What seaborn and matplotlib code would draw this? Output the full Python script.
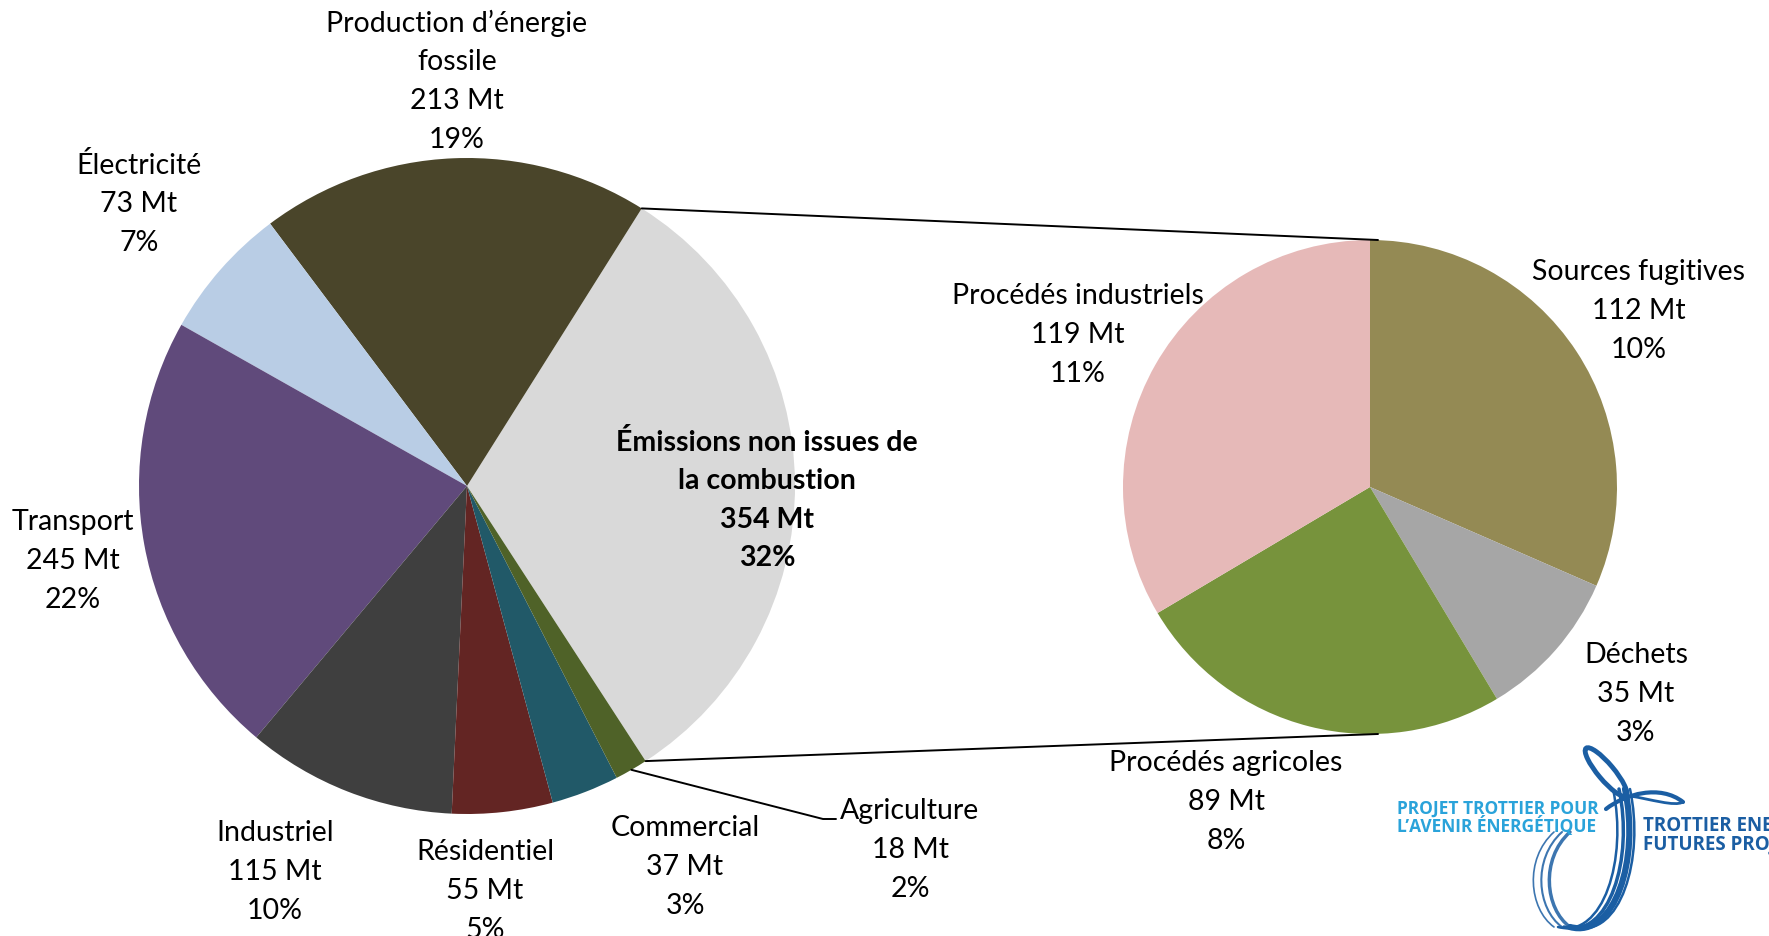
import numpy as np
import matplotlib
matplotlib.use("Agg")
import matplotlib.pyplot as plt
from matplotlib.patches import Ellipse, PathPatch
from matplotlib.path import Path
import seaborn as sns

# ---- data -------------------------------------------------------------
main_names = ["Émissions non issues de\nla combustion", "Production d’énergie\nfossile",
              "Électricité", "Transport", "Industriel", "Résidentiel",
              "Commercial", "Agriculture"]
main_values = [354, 213, 73, 245, 115, 55, 37, 18]
main_colors = ["#D9D9D9", "#4A452A", "#B9CDE5", "#604A7B", "#3F3F3F",
               "#632523", "#215968", "#4F6228"]

sub_names = ["Sources fugitives", "Déchets", "Procédés agricoles", "Procédés industriels"]
sub_values = [112, 35, 89, 119]
sub_colors = ["#948A54", "#A6A6A6", "#77933C", "#E6B9B8"]

total = sum(main_values)

# ---- style ------------------------------------------------------------
sns.set_theme(style="white")
plt.rcParams["font.family"] = ["Lato", "DejaVu Sans"]

W, H = 1769, 937
fig = plt.figure(figsize=(W / 100, H / 100), dpi=100)
ax = fig.add_axes([0, 0, 1, 1])

# pie geometry (pixel space, y up)
c1, r1 = (467, 450), 328
c2, r2 = (1370, 449), 247
start1 = -57.0

ax.pie(main_values, colors=main_colors, startangle=start1, counterclock=True,
       center=c1, radius=r1, frame=True, wedgeprops=dict(linewidth=0))
ax.pie(sub_values, colors=sub_colors, startangle=90, counterclock=False,
       center=c2, radius=r2, frame=True, wedgeprops=dict(linewidth=0))

ax.set_xlim(0, W)
ax.set_ylim(0, H)
ax.set_aspect("equal")
ax.axis("off")

# connector lines between the two pies
a_top = np.deg2rad(start1 + main_values[0] / total * 360)
a_bot = np.deg2rad(start1)
p_top = (c1[0] + r1 * np.cos(a_top), c1[1] + r1 * np.sin(a_top))
p_bot = (c1[0] + r1 * np.cos(a_bot), c1[1] + r1 * np.sin(a_bot))
ax.plot([p_top[0], c2[0] + 8], [p_top[1], c2[1] + r2], color="black", lw=1.4)
ax.plot([p_bot[0], c2[0] + 8], [p_bot[1], c2[1] - r2], color="black", lw=1.4)

# leader for the small Agriculture slice
ang_ag = np.deg2rad(start1 - main_values[-1] / total * 360 / 2)
p_ag = (c1[0] + r1 * np.cos(ang_ag), c1[1] + r1 * np.sin(ang_ag))
ax.plot([p_ag[0], 823, 836], [p_ag[1], 117, 117], color="black", lw=1.4)

# ---- labels -----------------------------------------------------------
fs = 20.5
ls = 1.6

def label(name, value, pos, bold=False):
    pct = round(value / total * 100)
    ax.text(pos[0], pos[1], f"{name}\n{value} Mt\n{pct}%", ha="center", va="center",
            fontsize=fs, linespacing=ls, color="black",
            fontweight="bold" if bold else "normal")

main_pos = [(767, 937 - 500), (457, 937 - 81), (139, 937 - 204), (73, 937 - 561),
            (275, 937 - 872), (485, 937 - 891), (685, 937 - 867), (910, 937 - 850)]
for i, (n, v, p) in enumerate(zip(main_names, main_values, main_pos)):
    label(n, v, p, bold=(i == 0))

sub_pos = [(1639, 937 - 311), (1636, 937 - 694), (1226, 937 - 802), (1078, 937 - 335)]
for n, v, p in zip(sub_names, sub_values, sub_pos):
    label(n, v, p)

# ---- logo -------------------------------------------------------------
light_blue = "#2AA3DA"
dark_blue = "#1B5EA3"
ax.text(1397, 937 - 818, "PROJET TROTTIER POUR\nL’AVENIR ÉNERGÉTIQUE", ha="left",
        va="center", fontsize=12.5, fontweight="bold", color=light_blue,
        family=["Open Sans", "DejaVu Sans"], linespacing=0.9)
ax.text(1643, 937 - 835, "TROTTIER ENERGY\nFUTURES PROJECT", ha="left",
        va="center", fontsize=13.5, fontweight="bold", color=dark_blue,
        family=["Open Sans", "DejaVu Sans"], linespacing=0.9, clip_on=False)

ax.add_patch(Ellipse((1606, 937 - 773), 62, 16, angle=-50, fill=False,
                     edgecolor=dark_blue, lw=3.5))

def curve(pts, lw, color=dark_blue, alpha=1.0):
    verts = [(x, 937 - y) for x, y in pts]
    codes = [Path.MOVETO] + [Path.CURVE4] * (len(verts) - 1)
    ax.add_patch(PathPatch(Path(verts, codes), fill=False, edgecolor=color,
                           lw=lw, alpha=alpha, capstyle="round"))

curve([(1606, 810), (1625, 795), (1660, 785), (1683, 803)], 3)
curve([(1683, 803), (1675, 808), (1650, 800), (1630, 797)], 2)
for dx, w in [(0, 4.5), (-6, 2.5), (-12, 1.8), (5, 1.8)]:
    curve([(1625 + dx, 790), (1640 + dx, 860), (1615 + dx, 940), (1570 + dx, 928)], w)
for dx, w in [(0, 2.5), (-8, 1.5), (-16, 1.2)]:
    curve([(1570 + dx, 928), (1545 + dx, 910), (1540 + dx, 860), (1570 + dx, 833)], w,
          alpha=0.85)

fig.savefig("out.png", dpi=100, facecolor="white")
